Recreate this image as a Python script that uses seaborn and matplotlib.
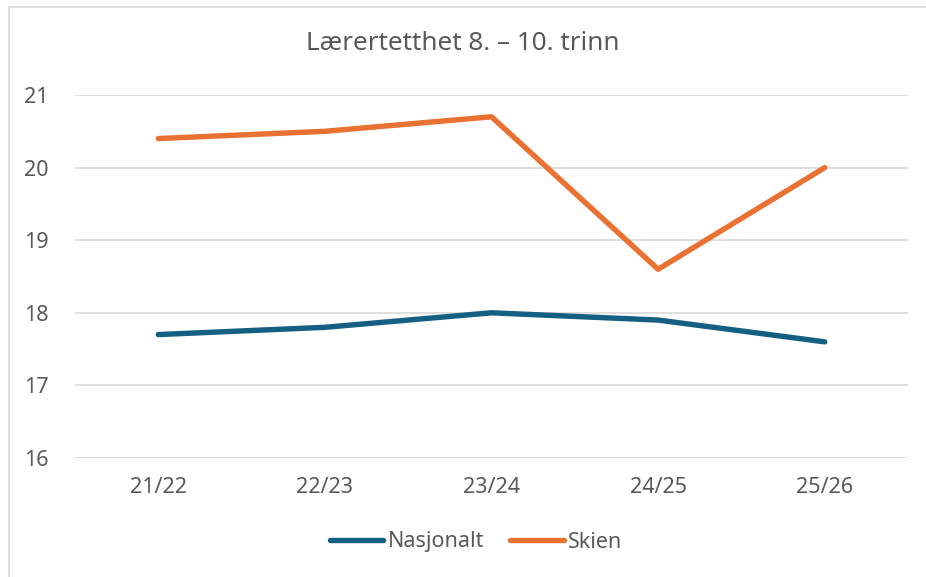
import matplotlib
matplotlib.use('Agg')
import matplotlib.pyplot as plt
import numpy as np
import pandas as pd
import seaborn as sns

YEARS = ['21/22', '22/23', '23/24', '24/25', '25/26']
NASJONALT = [17.7, 17.8, 18.0, 17.9, 17.6]
SKIEN = [20.4, 20.5, 20.7, 18.6, 20.0]
SERIES = ['Nasjonalt', 'Skien']
COLORS = {'Nasjonalt': '#156082', 'Skien': '#E97132'}
TEXT = '#595959'


def main():
    df = pd.DataFrame({
        'Year': YEARS * 2,
        'Value': NASJONALT + SKIEN,
        'Series': ['Nasjonalt'] * len(YEARS) + ['Skien'] * len(YEARS),
    })

    sns.set_style('white')
    plt.rcParams['font.family'] = ['Noto Sans', 'DejaVu Sans']

    fig = plt.figure(figsize=(9.26, 5.77), dpi=100)
    ax = fig.add_axes([75 / 926, 1 - 458 / 577, 833 / 926, 363 / 577])

    sns.lineplot(data=df, x='Year', y='Value', hue='Series', hue_order=SERIES,
                 palette=COLORS, linewidth=3.9, sort=False, ax=ax,
                 solid_capstyle='round', legend=False)

    ax.set_xlim(-0.5, 4.5)
    ax.set_ylim(16, 21)
    ax.set_yticks(range(16, 22))
    ax.yaxis.grid(True, color='#d9d9d9', linewidth=1.2)
    ax.set_axisbelow(True)
    for s in ax.spines.values():
        s.set_visible(False)
    ax.tick_params(axis='both', length=0, labelsize=15.5, colors=TEXT)
    ax.tick_params(axis='y', pad=19)
    ax.tick_params(axis='x', pad=14)
    ax.set_xlabel('')
    ax.set_ylabel('')

    fig.text(0.5, 1 - 44 / 577, 'Lærertetthet 8. – 10. trinn', ha='center',
             va='center', fontsize=18.8, color=TEXT)

    handles = [plt.Line2D([], [], color=COLORS[s], linewidth=3.9,
                          solid_capstyle='round') for s in SERIES]
    fig.legend(handles, SERIES, loc='center', bbox_to_anchor=(476 / 926, 1 - 542 / 577),
               ncol=2, frameon=False, fontsize=15.5, labelcolor=TEXT,
               handlelength=2.5, handletextpad=0.2, columnspacing=1.2)

    # chart frame (left and top edges visible in the crop)
    fig.add_artist(plt.Line2D([9 / 926, 9 / 926], [0, 1 - 7 / 577],
                              color='#d9d9d9', linewidth=1.2, transform=fig.transFigure))
    fig.add_artist(plt.Line2D([9 / 926, 1], [1 - 7 / 577, 1 - 7 / 577],
                              color='#d9d9d9', linewidth=1.2, transform=fig.transFigure))

    fig.savefig('out.png', dpi=100, facecolor='white')


if __name__ == '__main__':
    main()
